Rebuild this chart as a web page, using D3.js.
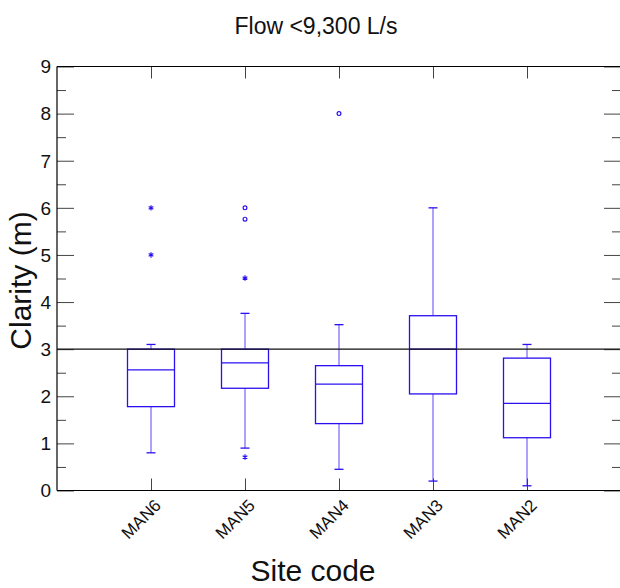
<!DOCTYPE html>
<html>
<head>
<meta charset="utf-8">
<script src="https://cdn.jsdelivr.net/npm/d3@7"></script>
<style>
  html, body { margin: 0; padding: 0; background: #fff; }
  svg { display: block; font-family: "Liberation Sans", Arial, Helvetica, sans-serif; }
</style>
</head>
<body>
<svg id="chart" width="620" height="588"></svg>
<script>
// ---- data ----
const categories   = ["MAN6", "MAN5", "MAN4", "MAN3", "MAN2"];
const whiskerLow   = [0.80, 0.90, 0.45, 0.20, 0.10];
const q1           = [1.78, 2.17, 1.42, 2.05, 1.12];
const median       = [2.56, 2.71, 2.26, 3.00, 1.85];
const q3           = [3.00, 3.00, 2.65, 3.71, 2.81];
const whiskerHigh  = [3.10, 3.76, 3.52, 6.00, 3.10];
const outlierSite  = ["MAN6", "MAN6", "MAN5", "MAN5", "MAN5", "MAN5", "MAN4"];
const outlierValue = [6.00, 5.00, 6.00, 5.76, 4.51, 0.71, 8.00];
const outlierKind  = ["star", "star", "circle", "circle", "star", "star", "circle"];
const yTicks       = [0, 1, 2, 3, 4, 5, 6, 7, 8, 9];
const yMinorTicks  = [0.5, 1.5, 2.5, 3.5, 4.5, 5.5, 6.5, 7.5, 8.5];
const referenceValue = 3;
const titleText  = "Flow <9,300 L/s";
const xLabelText = "Site code";
const yLabelText = "Clarity (m)";

// ---- layout ----
const svg = d3.select("#chart");
const pLeft = 57, pRight = 621, pTop = 66.5, pBottom = 490.5;
const boxColor = "#2a10f0";
const tickColor = "#444";

const x = d3.scaleLinear().domain([0, categories.length + 1]).range([pLeft, pRight]);
const xPos = c => x(categories.indexOf(c) + 1);
const y = d3.scaleLinear().domain([0, 9]).range([pBottom, pTop]);

const boxW = 47, capW = 9;

// ---- axes ----
const gLeft = svg.append("g").attr("transform", `translate(${pLeft},0)`);
gLeft.call(d3.axisRight(y).tickValues(yTicks).tickSize(17).tickFormat(""));
gLeft.select(".domain").remove();
gLeft.selectAll(".tick line").attr("stroke", tickColor);
const gLeftMinor = svg.append("g").attr("transform", `translate(${pLeft},0)`);
gLeftMinor.call(d3.axisRight(y).tickValues(yMinorTicks).tickSize(9).tickFormat(""));
gLeftMinor.select(".domain").remove();
gLeftMinor.selectAll(".tick line").attr("stroke", tickColor);

svg.append("g").selectAll("text").data(yTicks).join("text")
  .attr("x", pLeft - 6)
  .attr("y", d => y(d))
  .attr("dy", "0.36em")
  .attr("text-anchor", "end")
  .attr("font-size", 19)
  .attr("fill", "#111")
  .text(d => d);

const gRight = svg.append("g").attr("transform", `translate(${pRight - 1},0)`);
gRight.call(d3.axisLeft(y).tickValues(yTicks).tickSize(16).tickFormat(""));
gRight.select(".domain").remove();
gRight.selectAll(".tick line").attr("stroke", tickColor);
const gRightMinor = svg.append("g").attr("transform", `translate(${pRight - 1},0)`);
gRightMinor.call(d3.axisLeft(y).tickValues(yMinorTicks).tickSize(8).tickFormat(""));
gRightMinor.select(".domain").remove();
gRightMinor.selectAll(".tick line").attr("stroke", tickColor);

const catIdx = categories.map((c, i) => i + 1);
const gBottom = svg.append("g").attr("transform", `translate(0,${pBottom})`);
gBottom.call(d3.axisTop(x).tickValues(catIdx).tickSize(12).tickFormat(""));
gBottom.select(".domain").remove();
gBottom.selectAll(".tick line").attr("stroke", tickColor);
const gTop = svg.append("g").attr("transform", `translate(0,${pTop})`);
gTop.call(d3.axisBottom(x).tickValues(catIdx).tickSize(12).tickFormat(""));
gTop.select(".domain").remove();
gTop.selectAll(".tick line").attr("stroke", tickColor);

svg.append("line").attr("x1", pLeft).attr("x2", pLeft).attr("y1", pTop).attr("y2", pBottom)
  .attr("stroke", "#000").attr("stroke-width", 1.2);
svg.append("line").attr("x1", pLeft).attr("x2", pRight).attr("y1", pBottom).attr("y2", pBottom)
  .attr("stroke", "#000").attr("stroke-width", 1.2);
svg.append("line").attr("x1", pLeft).attr("x2", pRight).attr("y1", pTop).attr("y2", pTop)
  .attr("stroke", "#000").attr("stroke-width", 1.2);

svg.append("g").selectAll("text").data(categories).join("text")
  .attr("transform", d => `translate(${xPos(d) + 11},${pBottom + 16}) rotate(-45)`)
  .attr("text-anchor", "end")
  .attr("font-size", 17)
  .attr("fill", "#111")
  .text(d => d);

// ---- boxes ----
const boxes = svg.append("g");
categories.forEach((c, i) => {
  const cx = xPos(c);
  const g = boxes.append("g");
  g.append("line").attr("x1", cx).attr("x2", cx).attr("y1", y(q3[i])).attr("y2", y(whiskerHigh[i]))
    .attr("stroke", boxColor).attr("stroke-width", 1.3).attr("stroke-opacity", 0.6);
  g.append("line").attr("x1", cx).attr("x2", cx).attr("y1", y(q1[i])).attr("y2", y(whiskerLow[i]))
    .attr("stroke", boxColor).attr("stroke-width", 1.3).attr("stroke-opacity", 0.6);
  [whiskerHigh[i], whiskerLow[i]].forEach(v => {
    g.append("line").attr("x1", cx - capW / 2).attr("x2", cx + capW / 2).attr("y1", y(v)).attr("y2", y(v))
      .attr("stroke", boxColor).attr("stroke-width", 1.3);
  });
  g.append("rect").attr("x", cx - boxW / 2).attr("width", boxW)
    .attr("y", y(q3[i])).attr("height", y(q1[i]) - y(q3[i]))
    .attr("fill", "none").attr("stroke", boxColor).attr("stroke-width", 1.3);
  g.append("line").attr("x1", cx - boxW / 2).attr("x2", cx + boxW / 2)
    .attr("y1", y(median[i])).attr("y2", y(median[i]))
    .attr("stroke", boxColor).attr("stroke-width", 1.3);
});

const star = d3.symbol().type(d3.symbolAsterisk).size(20);
const outG = svg.append("g");
outlierValue.forEach((v, i) => {
  const cx = xPos(outlierSite[i]);
  if (outlierKind[i] === "circle") {
    outG.append("circle").attr("cx", cx).attr("cy", y(v)).attr("r", 1.9)
      .attr("fill", "none").attr("stroke", boxColor).attr("stroke-width", 1.2);
  } else {
    outG.append("path").attr("d", star()).attr("transform", `translate(${cx},${y(v)})`)
      .attr("fill", "none").attr("stroke", boxColor).attr("stroke-width", 1.2);
  }
});

svg.append("line").attr("x1", pLeft).attr("x2", pRight)
  .attr("y1", y(referenceValue)).attr("y2", y(referenceValue))
  .attr("stroke", "#111").attr("stroke-width", 1.2);

// ---- titles ----
svg.append("text").attr("x", 316).attr("y", 34).attr("text-anchor", "middle")
  .attr("font-size", 23).attr("fill", "#111").text(titleText);
svg.append("text").attr("x", 313).attr("y", 581).attr("text-anchor", "middle")
  .attr("font-size", 30).attr("fill", "#111").text(xLabelText);
svg.append("text").attr("transform", `translate(31,${(pTop + pBottom) / 2 + 2}) rotate(-90)`)
  .attr("text-anchor", "middle").attr("font-size", 30).attr("fill", "#111").text(yLabelText);
</script>
</body>
</html>
